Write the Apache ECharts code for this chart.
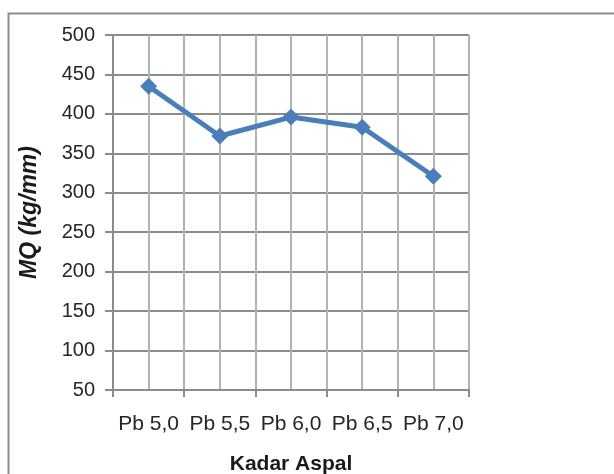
<!DOCTYPE html>
<html>
<head>
<meta charset="utf-8">
<script src="https://cdn.jsdelivr.net/npm/echarts@6/dist/echarts.min.js"></script>
<style>
  html, body { margin: 0; padding: 0; background: #ffffff; }
  #chart { width: 614px; height: 474px; }
</style>
</head>
<body>
<div id="chart"></div>
<script>
// Marshall quotient per asphalt content
const categories = ['Pb 5,0', 'Pb 5,5', 'Pb 6,0', 'Pb 6,5', 'Pb 7,0'];
const mqValues = [435, 372, 396, 383, 321];
const yTicks = { min: 50, max: 500, step: 50 };

// half-category slots so vertical grid lines fall on both boundaries and centres
const gridSlots = [];
categories.forEach(function (c) { gridSlots.push(c + '-a', c + '-b'); });

const FONT = 'Liberation Sans';
const chart = echarts.init(document.getElementById('chart'), null, { renderer: 'canvas' });

chart.setOption({
  backgroundColor: '#ffffff',
  animation: false,
  graphic: [{
    type: 'rect',
    shape: { x: 8.5, y: 13.5, width: 700, height: 600 },
    style: { fill: 'none', stroke: '#8c8c8c', lineWidth: 2 },
    silent: true, z: -1
  }],
  grid: { left: 113, right: 145, top: 35, bottom: 84, outerBoundsMode: 'none', containLabel: false },
  xAxis: [{
    type: 'category',
    data: categories,
    boundaryGap: true,
    position: 'bottom',
    name: 'Kadar Aspal',
    nameLocation: 'middle',
    nameGap: 64,
    nameTextStyle: { fontFamily: FONT, fontSize: 21, fontWeight: 'bold', color: '#1a1a1a' },
    axisLine: { show: true, lineStyle: { color: '#8c8c8c', width: 2 } },
    axisTick: { show: true, length: 7, alignWithLabel: false, lineStyle: { color: '#8c8c8c', width: 2 } },
    axisLabel: { fontFamily: FONT, fontSize: 21, color: '#262626', margin: 24, interval: 0 },
    splitLine: { show: false }
  }, {
    type: 'category',
    data: gridSlots,
    boundaryGap: true,
    position: 'top',
    axisLine: { show: false },
    axisTick: { show: false, interval: 0 },
    axisLabel: { show: false, interval: 0 },
    splitLine: { show: true, interval: 0, lineStyle: { color: '#b3b3b3', width: 2 } }
  }],
  yAxis: {
    type: 'value',
    min: yTicks.min,
    max: yTicks.max,
    interval: yTicks.step,
    name: 'MQ (kg/mm)',
    nameLocation: 'middle',
    nameGap: 72,
    nameRotate: 90,
    nameTextStyle: { fontFamily: FONT, fontSize: 23, fontWeight: 'bold', fontStyle: 'italic', color: '#1a1a1a' },
    axisLine: { show: true, lineStyle: { color: '#8c8c8c', width: 2 } },
    axisTick: { show: true, length: 8, lineStyle: { color: '#8c8c8c', width: 2 } },
    axisLabel: { fontFamily: FONT, fontSize: 20, color: '#262626', margin: 18 },
    splitLine: { show: true, lineStyle: { color: '#8c8c8c', width: 2 } }
  },
  series: [{
    type: 'line',
    xAxisIndex: 0,
    data: mqValues,
    symbol: 'diamond',
    symbolSize: 17,
    lineStyle: { color: '#4a7ebb', width: 5 },
    itemStyle: { color: '#4a7ebb' }
  }]
});
</script>
</body>
</html>
